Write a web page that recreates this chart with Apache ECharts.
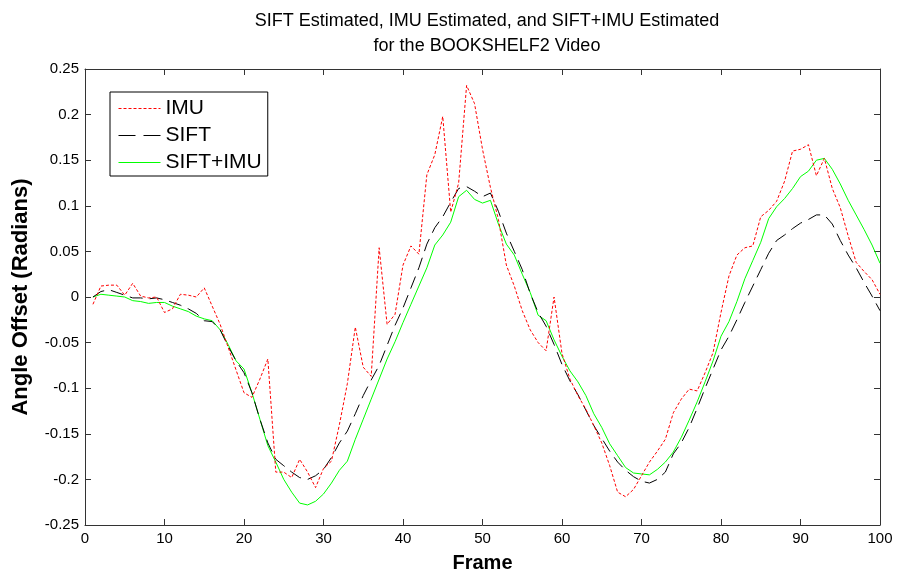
<!DOCTYPE html>
<html>
<head>
<meta charset="utf-8">
<script src="https://cdn.jsdelivr.net/npm/echarts@6/dist/echarts.min.js"></script>
<style>
html,body{margin:0;padding:0;background:#fff;}
#c{width:897px;height:573px;}
</style>
</head>
<body>
<div id="c"></div>
<script>
const frames = Array.from({length: 100}, (_, i) => i + 1);
const xTicks = [0,10,20,30,40,50,60,70,80,90,100];
const yTicks = [-0.25,-0.2,-0.15,-0.1,-0.05,0,0.05,0.1,0.15,0.2,0.25];

const imu = [-0.008,0.012,0.013,0.013,0.002,0.015,0.001,-0.001,0.000,-0.017,
-0.013,0.003,0.002,0.000,0.010,-0.010,-0.030,-0.055,-0.080,-0.105,
-0.110,-0.090,-0.068,-0.192,-0.192,-0.198,-0.178,-0.192,-0.209,-0.188,
-0.180,-0.140,-0.095,-0.033,-0.077,-0.087,0.054,-0.030,-0.019,0.035,
0.056,0.047,0.134,0.156,0.198,0.093,0.125,0.232,0.212,0.162,
0.120,0.085,0.035,0.012,-0.015,-0.036,-0.050,-0.059,0.000,-0.062,
-0.090,-0.108,-0.123,-0.141,-0.160,-0.185,-0.214,-0.219,-0.211,-0.196,
-0.181,-0.169,-0.156,-0.127,-0.112,-0.101,-0.103,-0.083,-0.061,-0.017,
0.023,0.046,0.054,0.056,0.088,0.095,0.105,0.127,0.160,0.162,
0.167,0.133,0.152,0.119,0.098,0.067,0.038,0.028,0.019,0.003];

const sift = [0.000,0.006,0.008,0.005,0.002,-0.001,-0.001,-0.002,-0.001,-0.003,
-0.006,-0.009,-0.013,-0.018,-0.026,-0.027,-0.036,-0.054,-0.070,-0.083,
-0.105,-0.134,-0.160,-0.178,-0.185,-0.192,-0.198,-0.200,-0.196,-0.189,
-0.176,-0.160,-0.147,-0.128,-0.108,-0.091,-0.075,-0.053,-0.031,-0.012,
0.010,0.032,0.058,0.076,0.088,0.104,0.119,0.121,0.116,0.110,
0.114,0.094,0.070,0.050,0.030,0.004,-0.017,-0.032,-0.052,-0.074,
-0.092,-0.107,-0.124,-0.141,-0.155,-0.169,-0.181,-0.190,-0.197,-0.202,
-0.204,-0.200,-0.192,-0.172,-0.160,-0.143,-0.122,-0.100,-0.079,-0.058,
-0.043,-0.025,-0.006,0.012,0.030,0.048,0.062,0.068,0.075,0.081,
0.085,0.090,0.090,0.080,0.062,0.046,0.032,0.016,0.001,-0.015];

const siftImu = [0.000,0.003,0.002,0.001,0.000,-0.004,-0.005,-0.007,-0.006,-0.006,
-0.010,-0.013,-0.016,-0.021,-0.024,-0.026,-0.036,-0.052,-0.070,-0.079,
-0.105,-0.134,-0.163,-0.181,-0.200,-0.214,-0.226,-0.228,-0.224,-0.216,
-0.204,-0.190,-0.180,-0.156,-0.134,-0.112,-0.090,-0.068,-0.049,-0.028,
-0.008,0.012,0.032,0.057,0.068,0.082,0.110,0.117,0.107,0.103,
0.106,0.080,0.058,0.046,0.025,0.005,-0.020,-0.026,-0.047,-0.065,
-0.081,-0.093,-0.108,-0.128,-0.143,-0.161,-0.174,-0.187,-0.193,-0.194,
-0.195,-0.189,-0.181,-0.170,-0.154,-0.135,-0.115,-0.093,-0.070,-0.043,
-0.027,-0.005,0.020,0.040,0.060,0.086,0.099,0.108,0.119,0.132,
0.138,0.150,0.152,0.140,0.124,0.106,0.090,0.074,0.057,0.037];

const pairs = arr => frames.map((f, i) => [f, arr[i]]);
const fmtY = v => { const r = Math.round(v * 100) / 100; return r === 0 ? '0' : String(r); };
const FONT = '"Liberation Sans", Arial, Helvetica, sans-serif';
const axisColor = '#333';
const hiddenSymbol = {color: 'transparent', borderColor: 'transparent', borderWidth: 0};

const chart = echarts.init(document.getElementById('c'), null, {renderer: 'canvas'});
chart.setOption({
  backgroundColor: '#fff',
  animation: false,
  textStyle: {fontFamily: FONT, color: '#000'},
  title: {
    text: 'SIFT Estimated, IMU Estimated, and SIFT+IMU Estimated\nfor the BOOKSHELF2 Video',
    left: 482, top: 4, textAlign: 'center',
    textStyle: {fontFamily: FONT, fontSize: 18, fontWeight: 'normal', color: '#000', lineHeight: 25, align: 'center'}
  },
  grid: {left: 85, right: 17, top: 69, bottom: 48, containLabel: false, outerBoundsMode: 'none'},
  legend: {
    orient: 'vertical', left: 110, top: 92,
    backgroundColor: '#fff', borderColor: '#000', borderWidth: 1,
    padding: [6, 6, 3, 8], itemGap: 6, itemWidth: 42, itemHeight: 2,
    textStyle: {fontFamily: FONT, fontSize: 21, color: '#000', lineHeight: 19},
    itemStyle: hiddenSymbol,
    data: [
      {name: 'IMU', itemStyle: hiddenSymbol, lineStyle: {color: '#ff0000', width: 1, type: [3, 2], opacity: 1}},
      {name: 'SIFT', itemStyle: hiddenSymbol, lineStyle: {color: '#000000', width: 1, type: [17, 8], opacity: 1}},
      {name: 'SIFT+IMU', itemStyle: hiddenSymbol, lineStyle: {color: '#00ff00', width: 1, type: 'solid', opacity: 1}}
    ]
  },
  xAxis: [{
    type: 'value', min: 0, max: 100, interval: 10,
    name: 'Frame', nameLocation: 'middle', nameGap: 28,
    nameTextStyle: {fontFamily: FONT, fontSize: 20, fontWeight: 'bold', color: '#000'},
    axisLine: {show: true, onZero: false, lineStyle: {color: axisColor, width: 1}},
    axisTick: {inside: true, length: 6, lineStyle: {color: axisColor}},
    axisLabel: {fontFamily: FONT, fontSize: 15, color: '#000', margin: 6},
    splitLine: {show: false}
  }, {
    type: 'value', min: 0, max: 100, interval: 10, position: 'top',
    axisLine: {show: true, onZero: false, lineStyle: {color: axisColor, width: 1}},
    axisTick: {inside: true, length: 6, lineStyle: {color: axisColor}},
    axisLabel: {show: false}, splitLine: {show: false}
  }],
  yAxis: [{
    type: 'value', min: -0.25, max: 0.25, interval: 0.05,
    name: 'Angle Offset (Radians)', nameLocation: 'middle', nameGap: 53,
    nameTextStyle: {fontFamily: FONT, fontSize: 22, fontWeight: 'bold', color: '#000'},
    axisLine: {show: true, onZero: false, lineStyle: {color: axisColor, width: 1}},
    axisTick: {inside: true, length: 6, lineStyle: {color: axisColor}},
    axisLabel: {fontFamily: FONT, fontSize: 15, color: '#000', margin: 6, formatter: fmtY},
    splitLine: {show: false}
  }, {
    type: 'value', min: -0.25, max: 0.25, interval: 0.05, position: 'right',
    axisLine: {show: true, onZero: false, lineStyle: {color: axisColor, width: 1}},
    axisTick: {inside: true, length: 6, lineStyle: {color: axisColor}},
    axisLabel: {show: false}, splitLine: {show: false}
  }],
  series: [{
    name: 'IMU', type: 'line', data: pairs(imu), symbol: 'none',
    lineStyle: {color: '#ff0000', width: 1, type: [3, 2]}, itemStyle: {color: '#ff0000'}, z: 3
  }, {
    name: 'SIFT', type: 'line', data: pairs(sift), symbol: 'none',
    lineStyle: {color: '#000', width: 1, type: [13, 7]}, itemStyle: {color: '#000'}, z: 2
  }, {
    name: 'SIFT+IMU', type: 'line', data: pairs(siftImu), symbol: 'none',
    lineStyle: {color: '#00ff00', width: 1, type: 'solid'}, itemStyle: {color: '#00ff00'}, z: 1
  }]
});
</script>
</body>
</html>
